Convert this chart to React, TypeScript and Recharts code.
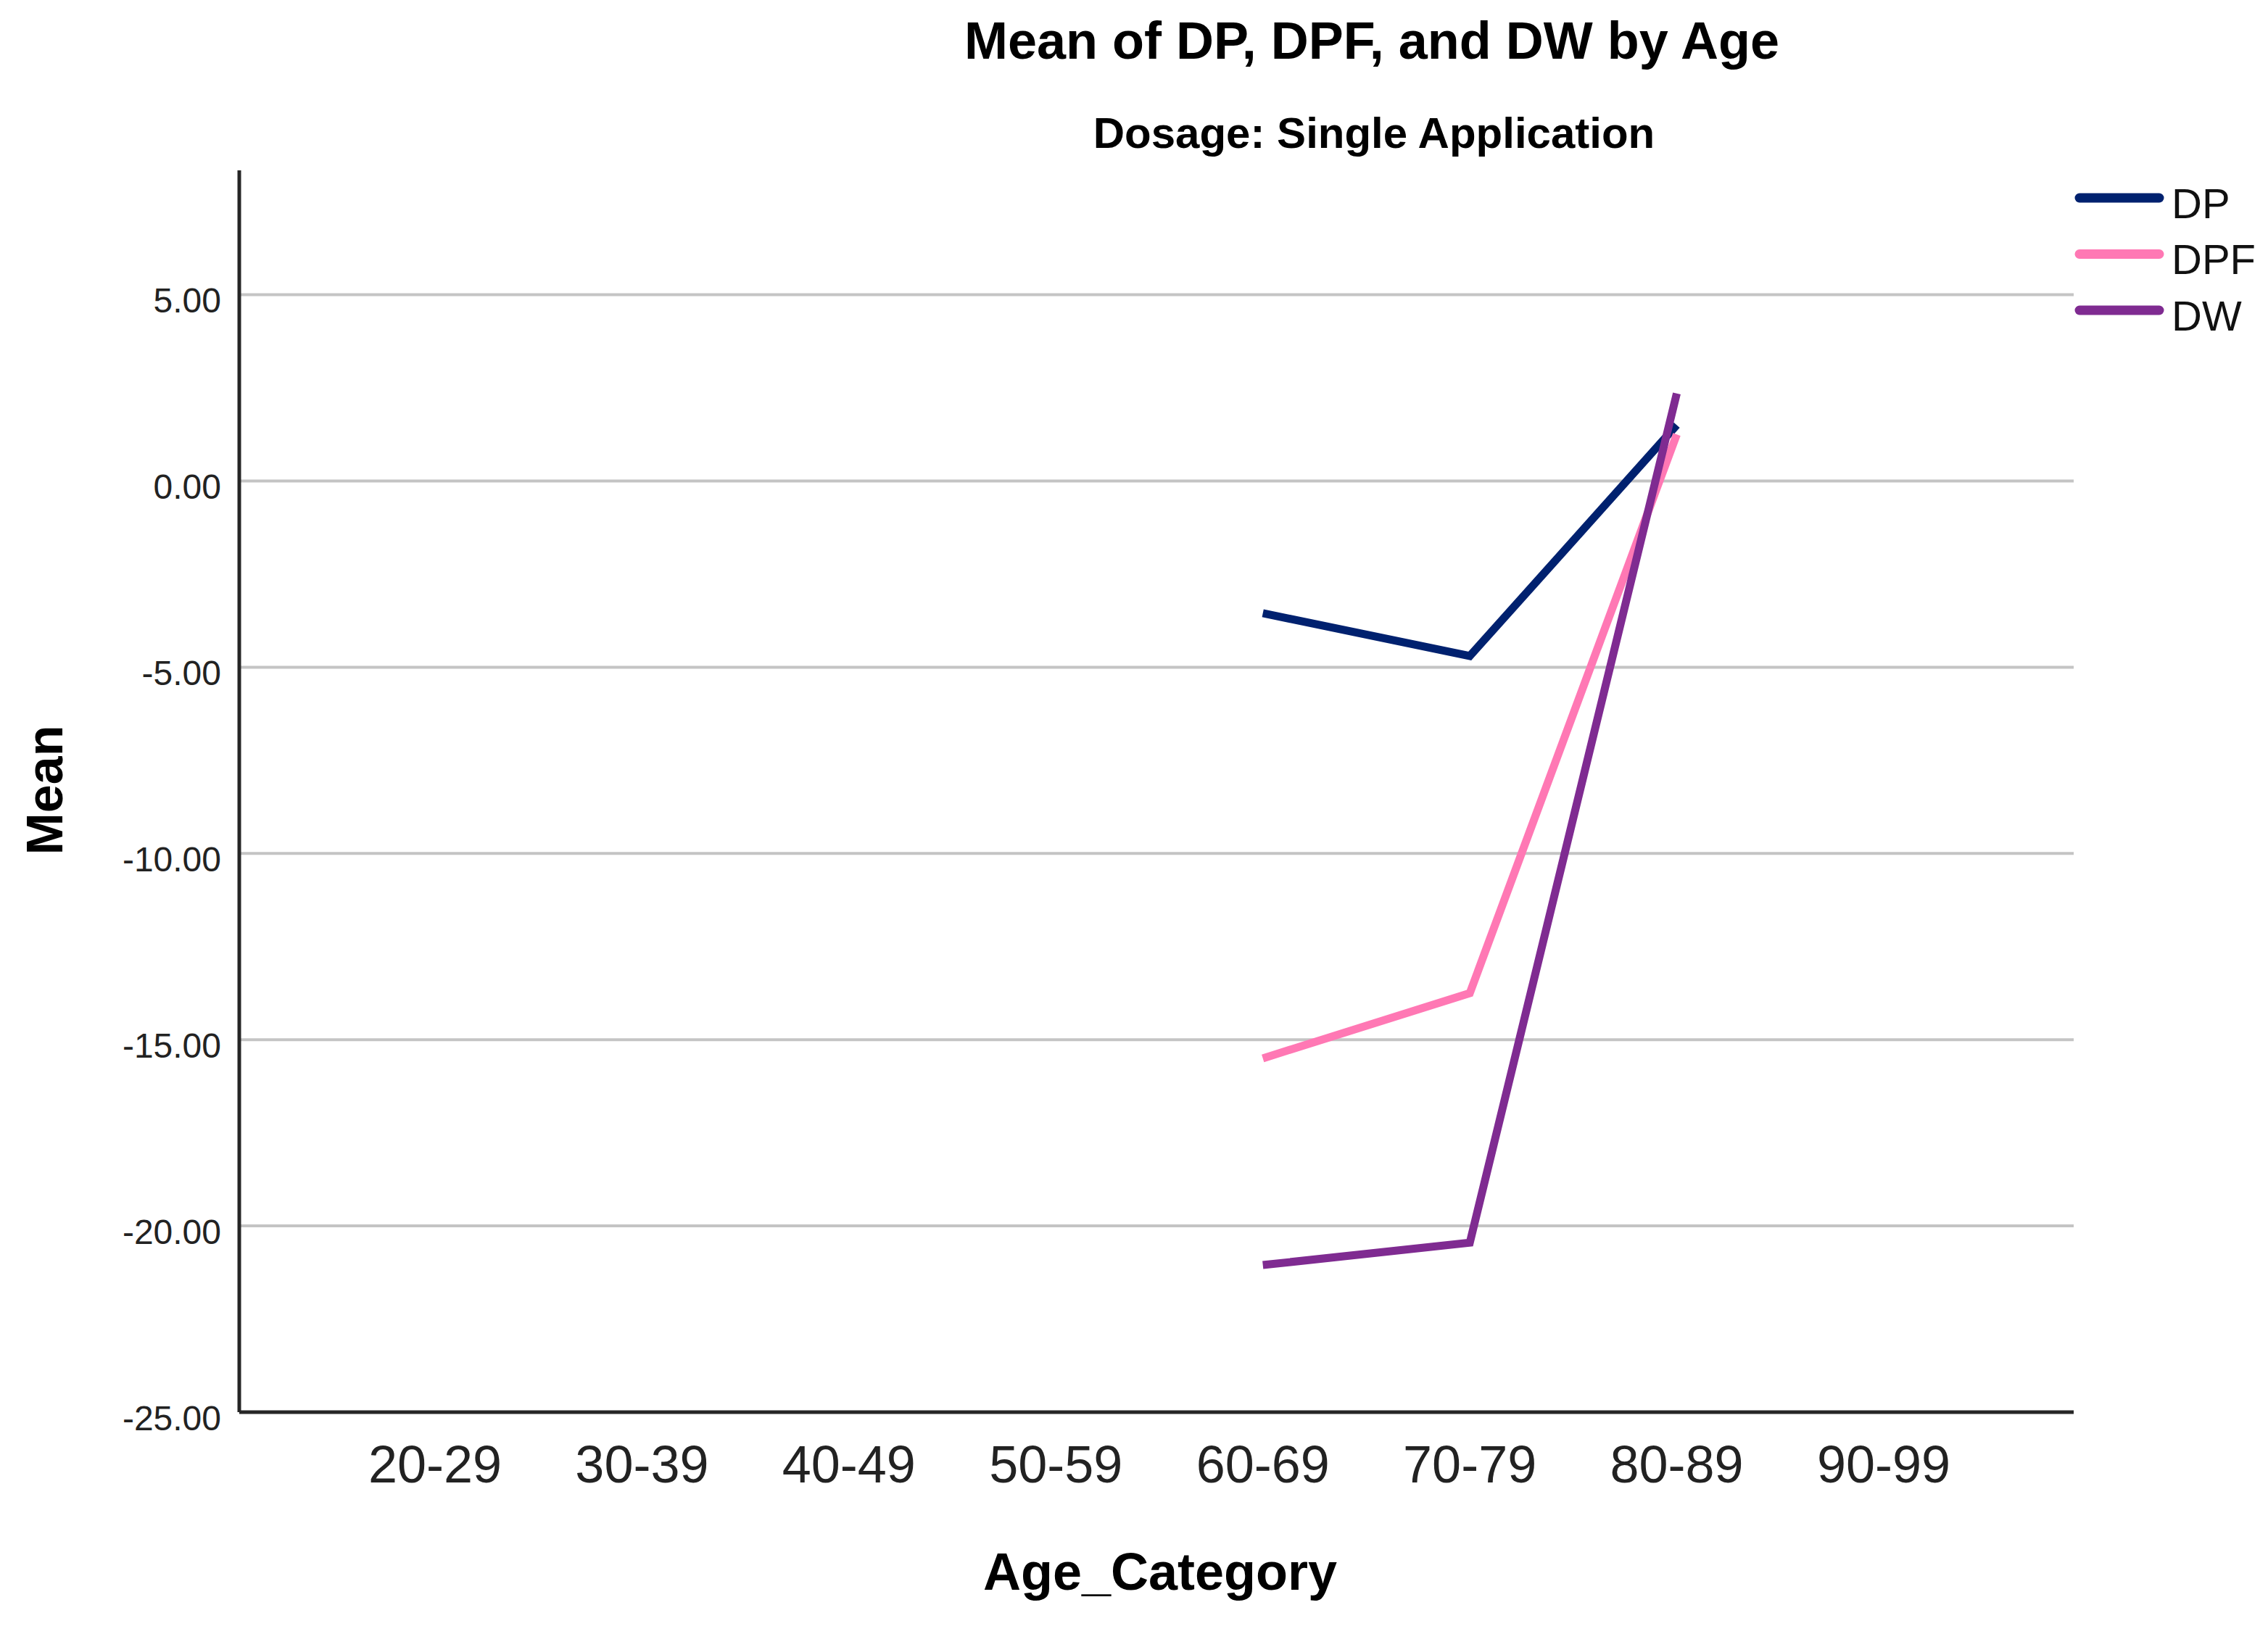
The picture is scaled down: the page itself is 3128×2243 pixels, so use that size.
import React from 'react';
import {LineChart, Line, XAxis, YAxis, CartesianGrid, Legend} from 'recharts';

const ageCategories = ['20-29', '30-39', '40-49', '50-59', '60-69', '70-79', '80-89', '90-99'];
const dpMeans = [null, null, null, null, -3.55, -4.7, 1.5, null];
const dpfMeans = [null, null, null, null, -15.5, -13.75, 1.25, null];
const dwMeans = [null, null, null, null, -21.05, -20.45, 2.35, null];
const yTicks = [-25, -20, -15, -10, -5, 0, 5];
const gridValues = [-20, -15, -10, -5, 0, 5];

const FONT = '"Liberation Sans", Arial, sans-serif';

const data = ageCategories.map((age, i) => ({
	age,
	DP: dpMeans[i],
	DPF: dpfMeans[i],
	DW: dwMeans[i],
}));

const YTick = (props: any) => {
	const {x, y, payload} = props;
	return (
		<text x={x} y={y + 8} textAnchor='end' dominantBaseline='central' fontSize={48} fill='#222' fontFamily={FONT}>
			{Number(payload.value).toFixed(2)}
		</text>
	);
};

const XTick = (props: any) => {
	const {x, y, payload} = props;
	return (
		<text x={x} y={y + 72} textAnchor='middle' dominantBaseline='central' fontSize={72} fill='#222' fontFamily={FONT}>
			{payload.value}
		</text>
	);
};

const LegendBox = (props: any) => {
	const items = props.payload || [];
	return (
		<svg width={268} height={240}>
			{items.map((item: any, i: number) => {
				const cy = 38 + i * 77.5;
				return (
					<g key={item.value}>
						<line x1={8} x2={118} y1={cy} y2={cy} stroke={item.color} strokeWidth={13} strokeLinecap='round'/>
						<text x={135} y={cy + 7} dominantBaseline='central' fontSize={58} fill='#111' fontFamily={FONT}>
							{item.value}
						</text>
					</g>
				);
			})}
		</svg>
	);
};

const textStyle = (left: number, top: number, size: number, extra = ''): React.CSSProperties => ({
	position: 'absolute',
	left,
	top,
	fontSize: size,
	lineHeight: 1,
	fontWeight: 'bold',
	fontFamily: FONT,
	color: '#000',
	whiteSpace: 'nowrap',
	transform: 'translate(-50%, -50%)' + extra,
});

export default function App() {
	return (
		<div style={{margin: -8, width: 3128, height: 2243, position: 'relative', background: '#fff'}}>
			<LineChart
				width={3128}
				height={2243}
				data={data}
				margin={{top: 235, right: 0, bottom: 0, left: 0}}
			>
				<CartesianGrid horizontal={true} vertical={false} horizontalValues={gridValues} stroke='#c4c4c4' strokeWidth={4}/>
				<XAxis
					dataKey='age'
					height={295}
					padding={{left: 270, right: 262}}
					tickLine={false}
					tickSize={0}
					tickMargin={0}
					tick={<XTick/>}
					stroke='#262626'
					strokeWidth={5}
					interval={0}
				/>
				<YAxis
					width={330}
					domain={[-25, 8.34]}
					ticks={yTicks}
					tickLine={false}
					tickSize={0}
					tickMargin={25}
					tick={<YTick/>}
					stroke='#262626'
					strokeWidth={5}
					allowDataOverflow={true}
				/>
				<Legend
					layout='vertical'
					align='right'
					verticalAlign='top'
					content={<LegendBox/>}
					wrapperStyle={{top: 235, right: 0, width: 268, height: 240}}
				/>
				<Line type='linear' dataKey='DP' name='DP' stroke='#00216f' strokeWidth={11} dot={false} isAnimationActive={false}/>
				<Line type='linear' dataKey='DPF' name='DPF' stroke='#ff78b4' strokeWidth={11} dot={false} isAnimationActive={false}/>
				<Line type='linear' dataKey='DW' name='DW' stroke='#7f2b91' strokeWidth={11} dot={false} isAnimationActive={false}/>
			</LineChart>
			<div style={textStyle(1892, 56, 72)}>Mean of DP, DPF, and DW by Age</div>
			<div style={textStyle(1895, 184, 60)}>Dosage: Single Application</div>
			<div style={textStyle(1600, 2168, 72)}>Age_Category</div>
			<div style={textStyle(62, 1090, 70, ' rotate(-90deg)')}>Mean</div>
		</div>
	);
}
